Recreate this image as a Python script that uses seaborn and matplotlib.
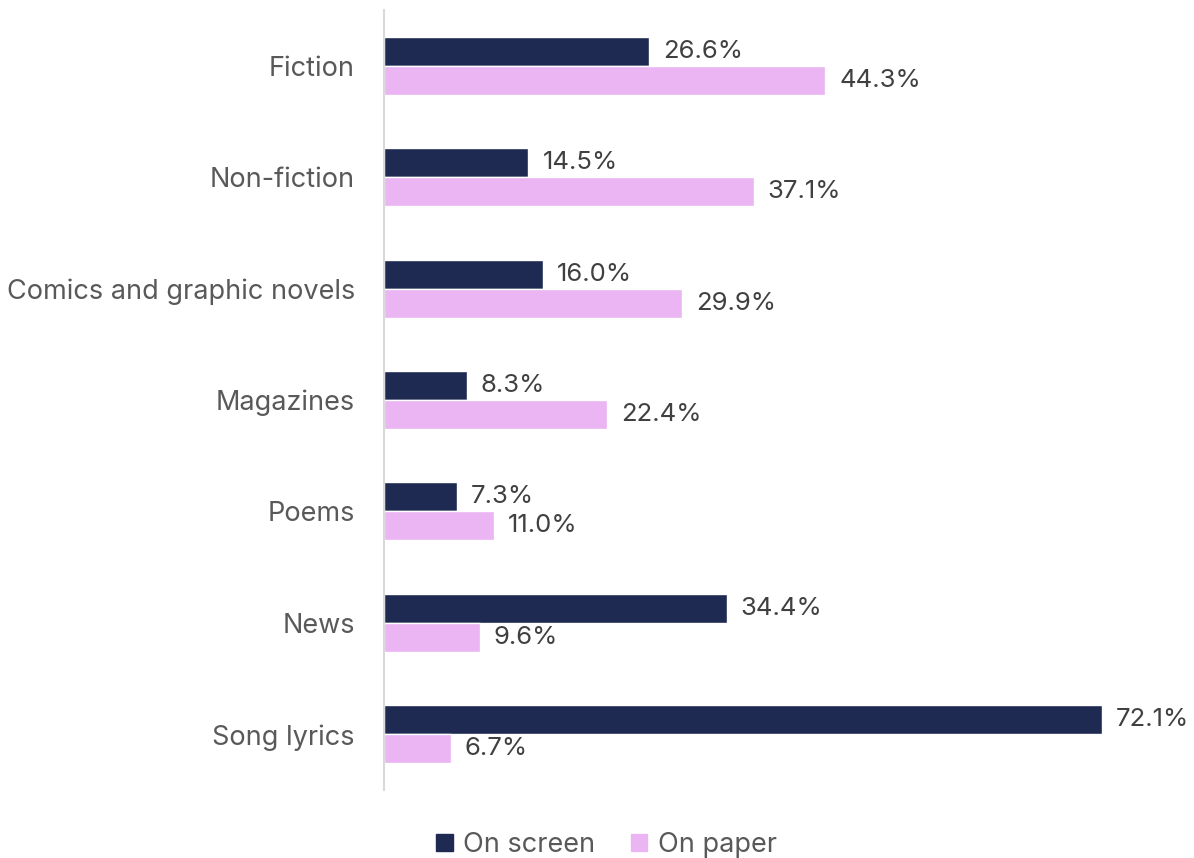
import matplotlib
matplotlib.use("Agg")
import matplotlib.pyplot as plt
import seaborn as sns
import pandas as pd

categories = ["Fiction", "Non-fiction", "Comics and graphic novels", "Magazines",
              "Poems", "News", "Song lyrics"]
on_screen = [26.6, 14.5, 16.0, 8.3, 7.3, 34.4, 72.1]
on_paper = [44.3, 37.1, 29.9, 22.4, 11.0, 9.6, 6.7]
series = ["On screen", "On paper"]
colors = ["#1e2a52", "#ebb4f2"]

df = pd.DataFrame({
    "category": categories * 2,
    "value": on_screen + on_paper,
    "mode": [series[0]] * len(categories) + [series[1]] * len(categories),
})

sns.set_theme(style="white")
plt.rcParams["font.family"] = ["Inter", "DejaVu Sans"]

fig = plt.figure(figsize=(11.94, 8.58), dpi=100)
ax = fig.add_axes([384 / 1194, 1 - 790 / 858, (1150 - 384) / 1194, (790 - 10) / 858])

sns.barplot(data=df, y="category", x="value", hue="mode", order=categories,
            hue_order=series, palette=colors, orient="h", width=0.52,
            saturation=1, ax=ax, legend=False)

for cont in ax.containers:
    ax.bar_label(cont, fmt="%.1f%%", padding=10, fontsize=18.5, color="#404040")

ax.set_xlim(0, 76.9)
ax.set_ylim(6.5, -0.5)
ax.set_xlabel("")
ax.set_ylabel("")
ax.set_xticks([])
for s in ["top", "right", "bottom"]:
    ax.spines[s].set_visible(False)
ax.spines["left"].set_color("#d9d9d9")
ax.spines["left"].set_linewidth(1.5)
ax.tick_params(axis="y", length=0, pad=21, labelsize=19.5, labelcolor="#595959")

handles = [plt.Rectangle((0, 0), 1, 1, color=c) for c in colors]
fig.legend(handles, series, loc="center", bbox_to_anchor=(0.508, 1 - 845 / 858),
           ncol=2, frameon=False, fontsize=19.5, handlelength=0.6, handleheight=0.6,
           handletextpad=0.4, columnspacing=1.3, labelcolor="#595959")

fig.savefig("out.png", dpi=100)
